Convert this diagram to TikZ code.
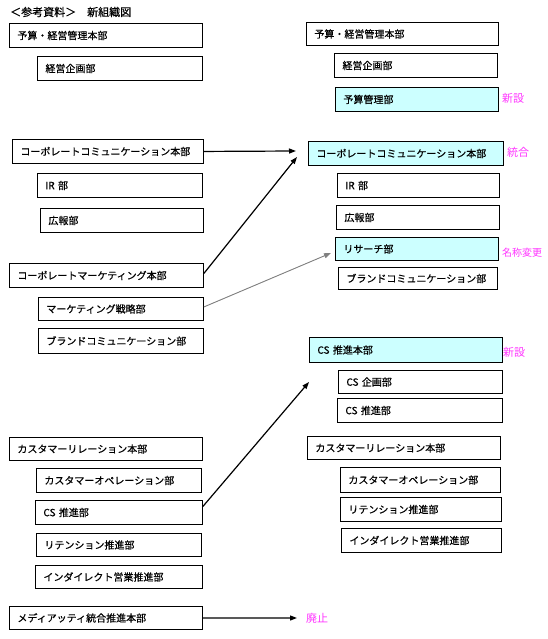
\documentclass[tikz,border=0pt]{standalone}
\usepackage{fontspec}
\setmainfont{Noto Sans CJK JP}[BoldFont={Noto Sans CJK JP},BoldFeatures={FakeBold=0.6}]
\usetikzlibrary{arrows.meta}
\definecolor{newcyan}{HTML}{CCFFFF}
\definecolor{notemag}{HTML}{FF33FF}
\definecolor{arrgray}{HTML}{808080}
\newcommand\obox[7]{%
  \pgfmathsetmacro\obw{#5-#3-16}%
  \pgfmathsetmacro\obh{#6-#4}%
  \node[box,#2,text width=\obw pt,minimum height=\obh pt] (#1) at (#3,#4) {#7};}
\tikzset{
  box/.style={draw=black, line width=0.9pt, fill=white, inner xsep=8pt, inner ysep=0pt,
    anchor=north west, align=left, font=\fontsize{10}{12}\selectfont\bfseries},
  newbox/.style={fill=newcyan},
  oldbox/.style={},
  arr/.style={line width=1.2pt, -{Triangle[length=7pt,width=5pt]}},
  grayarr/.style={line width=0.9pt, draw=arrgray, fill=arrgray, -{Triangle[length=7pt,width=5pt]}},
  note/.style={text=notemag, anchor=west, inner sep=0pt, font=\fontsize{11}{13}\selectfont},
}
\begin{document}
\begin{tikzpicture}[x=1pt,y=-1pt]
\useasboundingbox (0,0) rectangle (548,639);
\node[anchor=west, inner sep=0pt, font=\fontsize{11}{12}\selectfont\bfseries] (title) at (10,12) {＜参考資料＞　新組織図};
% left column
\obox{bL1}{oldbox}{9}{23}{202}{47}{予算・経営管理本部}
\obox{bL2}{oldbox}{37}{56}{202}{80}{経営企画部}
\obox{ccL}{oldbox}{12}{139}{203}{163}{コーポレートコミュニケーション本部}
\obox{irL}{oldbox}{37}{173}{202}{197}{IR 部}
\obox{prL}{oldbox}{40}{208}{203}{232}{広報部}
\obox{cmL}{oldbox}{9}{263}{203}{287}{コーポレートマーケティング本部}
\obox{msL}{oldbox}{38}{297}{203}{320}{マーケティング戦略部}
\obox{bcL}{oldbox}{38}{328}{203}{353}{ブランドコミュニケーション部}
\obox{crL}{oldbox}{9}{437}{202}{460}{カスタマーリレーション本部}
\obox{coL}{oldbox}{36}{468}{201}{492}{カスタマーオペレーション部}
\obox{csL}{oldbox}{35}{500}{202}{524}{CS 推進部}
\obox{rtL}{oldbox}{36}{533}{201}{556}{リテンション推進部}
\obox{idL}{oldbox}{35}{565}{202}{588}{インダイレクト営業推進部}
\obox{mdL}{oldbox}{9}{606}{202}{629}{メディアッティ統合推進本部}
% right column
\obox{bR1}{oldbox}{306}{22}{498}{45}{予算・経営管理本部}
\obox{bR2}{oldbox}{334}{53}{497}{77}{経営企画部}
\obox{bR3}{newbox}{335}{87}{498}{111}{予算管理部}
\obox{ccR}{newbox}{308}{141}{503}{165}{コーポレートコミュニケーション本部}
\obox{irR}{oldbox}{337}{173}{499}{197}{IR 部}
\obox{prR}{oldbox}{336}{205}{499}{229}{広報部}
\obox{rsR}{newbox}{335}{237}{498}{260}{リサーチ部}
\obox{bcR}{oldbox}{338}{267}{497}{289}{ブランドコミュニケーション部}
\obox{csHR}{newbox}{309}{337}{502}{362}{CS 推進本部}
\obox{cpR}{oldbox}{338}{370}{502}{393}{CS 企画部}
\obox{csR}{oldbox}{337}{398}{502}{422}{CS 推進部}
\obox{crR}{oldbox}{307}{436}{500}{459}{カスタマーリレーション本部}
\obox{coR}{oldbox}{340}{467}{500}{492}{カスタマーオペレーション部}
\obox{rtR}{oldbox}{340}{497}{501}{521}{リテンション推進部}
\obox{idR}{oldbox}{341}{528}{501}{552}{インダイレクト営業推進部}
% notes
\node[note] (n1) at (502,98) {新設};
\node[note] (n2) at (507,152) {統合};
\node[note, font=\fontsize{10}{12}\selectfont] (n3) at (502,253) {名称変更};
\node[note] (n4) at (503,352) {新設};
\node[note] (n5) at (306,618) {廃止};
% arrow ends
\coordinate (e1) at (296,151);
\coordinate (e2) at (297,157);
\coordinate (e3) at (331,253);
\coordinate (e4) at (309,382);
\coordinate (e5) at (297,618);
\draw[arr] (ccL.east) -- (e1);
\draw[arr] ([yshift=2pt]cmL.east) -- (e2);
\draw[grayarr] ([yshift=2pt]msL.east) -- (e3);
\draw[arr] ([yshift=6pt]csL.east) -- (e4);
\draw[arr] (mdL.east) -- (e5);
\end{tikzpicture}
\end{document}
